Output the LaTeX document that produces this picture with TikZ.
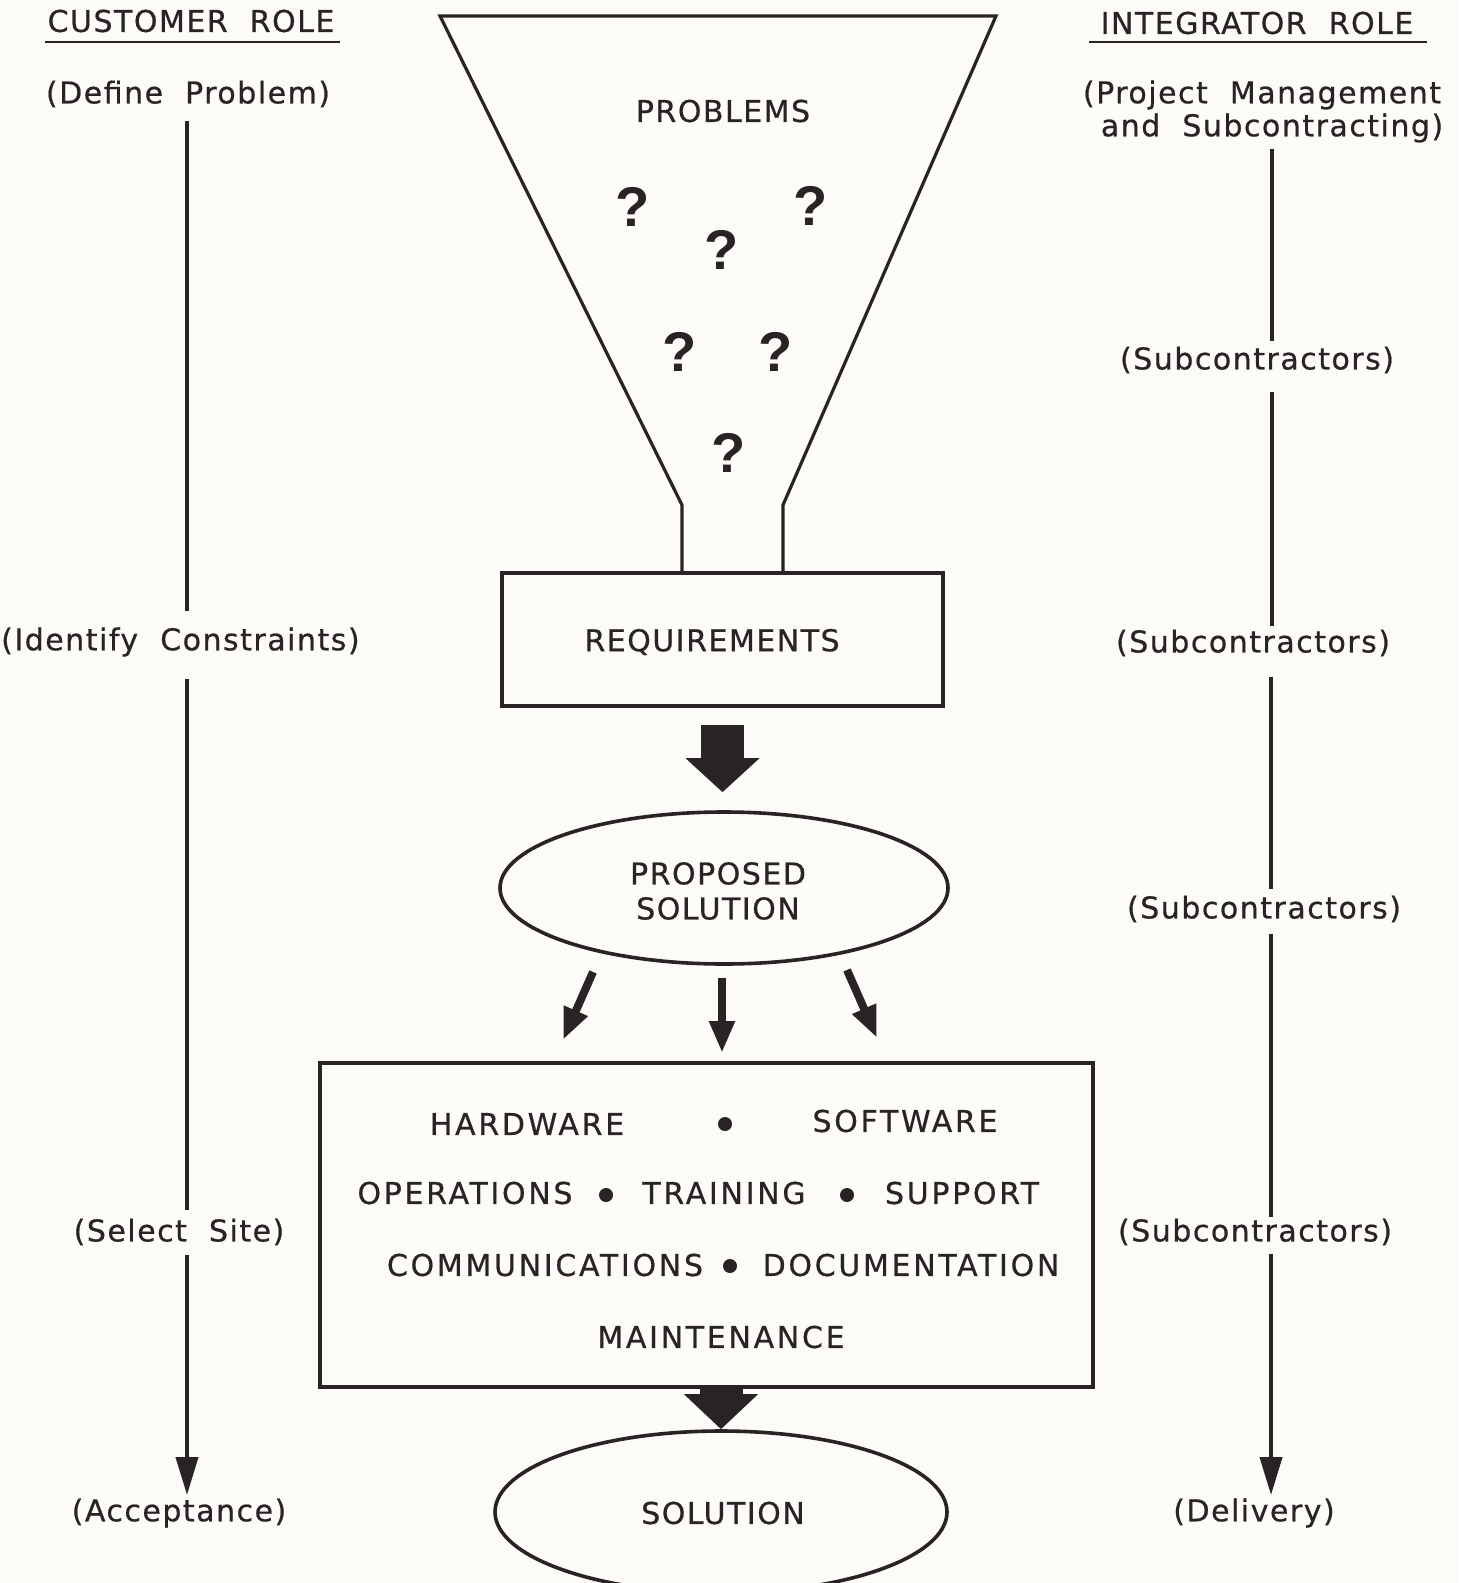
\documentclass[tikz,border=0pt]{standalone}
\usepackage{fontspec}
\setmainfont{DejaVu Sans}[LetterSpace=5, WordSpace=2, FakeBold=0.6]
\newfontfamily\boxfont{DejaVu Sans}[LetterSpace=9, WordSpace=2, FakeBold=0.6]
\newfontfamily\qfont{Liberation Sans}
\usetikzlibrary{arrows.meta, shapes.geometric, calc}
\definecolor{ink}{RGB}{40,35,36}
\definecolor{paper}{RGB}{252,251,248}
\begin{document}
\begin{tikzpicture}[x=0.5pt, y=-0.5pt,
  lbl/.style={font=\fontsize{15}{18}\selectfont, text=ink, inner sep=0pt},
  boxlbl/.style={font=\fontsize{15}{18}\boxfont, text=ink, inner sep=0pt},
  qm/.style={font=\fontsize{28}{30}\qfont\bfseries, text=ink, inner sep=0pt},
  outline/.style={draw=ink, line width=1.6pt},
  boxshape/.style={draw=ink, line width=1.8pt, rectangle, inner sep=0pt},
  ellshape/.style={draw=ink, line width=1.8pt, ellipse, inner sep=0pt},
  fat/.style={draw=ink, line width=21.5pt, line cap=butt, -{Triangle[length=17pt,width=36pt]}},
  thinarrow/.style={draw=ink, line width=4pt, line cap=butt, -{Triangle[length=16pt,width=12pt]}},
  sideline/.style={draw=ink, line width=2pt},
  sidearrow/.style={draw=ink, line width=2pt, -{Triangle[length=19pt,width=11pt]}},
  dotmark/.style={circle, fill=ink, inner sep=0pt, minimum size=7pt}
]
\fill[paper] (0,0) rectangle (1458,1583);
\useasboundingbox (0,0) rectangle (1458,1583);

% ---------- funnel ----------
\coordinate (f1) at (440,16);
\coordinate (f2) at (996,16);
\coordinate (f3) at (783,505);
\coordinate (f4) at (783,573);
\coordinate (f5) at (682,573);
\coordinate (f6) at (682,505);
\draw[outline, line join=miter] (f4) -- (f3) -- (f2) -- (f1) -- (f6) -- (f5);
\node[lbl] (problems) at (723,111) {PROBLEMS};
\node[qm] (q1) at (633,207) {?};
\node[qm] (q2) at (811,206) {?};
\node[qm] (q3) at (722,250) {?};
\node[qm] (q4) at (680,352) {?};
\node[qm] (q5) at (776,352) {?};
\node[qm] (q6) at (729,453) {?};

% ---------- requirements ----------
\node[boxshape, minimum width=220.5pt, minimum height=66.5pt] (req) at (722.5,639.5) {};
\node[lbl] (reqtxt) at (712,642) {REQUIREMENTS};

% ---------- proposed solution ----------
\node[ellshape, minimum width=224pt, minimum height=76pt] (prop) at (724,888) {};
\node[lbl, align=center] (proptxt) at (718,891) {PROPOSED\\[-0.5pt]SOLUTION};

\draw[fat] ([yshift=-8.5pt]req.south) -- ([yshift=9pt]prop.north -| req.south);

% ---------- system box ----------
\node[boxshape, minimum width=386.5pt, minimum height=162pt] (sys) at (706.5,1225) {};
\node[boxlbl] (hw) at (527,1124) {HARDWARE};
\node[dotmark] (d1) at (725,1124) {};
\node[boxlbl] (sw) at (905,1121) {SOFTWARE};
\node[boxlbl] (ops) at (465,1193) {OPERATIONS};
\node[dotmark] (d2) at (606,1195) {};
\node[boxlbl] (trn) at (724,1193) {TRAINING};
\node[dotmark] (d3) at (847,1195) {};
\node[boxlbl] (sup) at (962,1193) {SUPPORT};
\node[boxlbl] (com) at (545,1265) {COMMUNICATIONS};
\node[dotmark] (d4) at (730,1266) {};
\node[boxlbl] (doc) at (911,1265) {DOCUMENTATION};
\node[boxlbl] (mnt) at (721,1337) {MAINTENANCE};

% thin arrows between proposed solution and system box
\coordinate (a1s) at (593,972);
\coordinate (a1e) at (563,1040);
\coordinate (a2s) at (722,978);
\coordinate (a2e) at (722,1053);
\coordinate (a3s) at (847,970);
\coordinate (a3e) at (877,1038);
\draw[thinarrow] (a1s) -- (a1e);
\draw[thinarrow] (a2s) -- (a2e);
\draw[thinarrow] (a3s) -- (a3e);

% ---------- solution ----------
\node[ellshape, minimum width=226pt, minimum height=81pt] (sol) at (721,1512) {};
\node[lbl] (soltxt) at (723,1513) {SOLUTION};
\draw[fat, -{Triangle[length=17.5pt,width=36pt]}] (sys.south -| sol.north) -- (sol.north);

% ---------- customer column ----------
\node[lbl] (cust) at (191,21) {CUSTOMER ROLE};
\coordinate (cu1) at (45,42);
\coordinate (cu2) at (340,42);
\draw[ink, line width=1.4pt] (cu1) -- (cu2);
\node[lbl] (defprob) at (188,94) {(Define Problem)};
\node[lbl, anchor=east] (ident) at (360,642) {(Identify Constraints)};
\node[lbl] (selsite) at (179,1232) {(Select Site)};
\node[lbl] (accept) at (179,1513) {(Acceptance)};
\coordinate (l1) at (187,121);
\coordinate (l2) at (187,611);
\coordinate (l3) at (187,679);
\coordinate (l4) at (187,1210);
\coordinate (l5) at (187,1255);
\coordinate (l6) at (187,1495);
\draw[sideline] (l1) -- (l2);
\draw[sideline] (l3) -- (l4);
\draw[sidearrow] (l5) -- (l6);

% ---------- integrator column ----------
\node[lbl] (integ) at (1257,23) {INTEGRATOR ROLE};
\coordinate (iu1) at (1089,42);
\coordinate (iu2) at (1427,42);
\draw[ink, line width=1.4pt] (iu1) -- (iu2);
\node[lbl] (pm1) at (1262,95) {(Project Management};
\node[lbl] (pm2) at (1272,128) {and Subcontracting)};
\node[lbl] (sub1) at (1257,360) {(Subcontractors)};
\node[lbl] (sub2) at (1253,643) {(Subcontractors)};
\node[lbl] (sub3) at (1264,909) {(Subcontractors)};
\node[lbl] (sub4) at (1255,1232) {(Subcontractors)};
\node[lbl] (deliv) at (1254,1513) {(Delivery)};
\coordinate (r1) at (1272,149);
\coordinate (r2) at (1272,341);
\coordinate (r3) at (1272,392);
\coordinate (r4) at (1272,626);
\coordinate (r5) at (1271,677);
\coordinate (r6) at (1271,889);
\coordinate (r7) at (1271,934);
\coordinate (r8) at (1271,1217);
\coordinate (r9) at (1271,1254);
\coordinate (r10) at (1271,1495);
\draw[sideline] (r1) -- (r2);
\draw[sideline] (r3) -- (r4);
\draw[sideline] (r5) -- (r6);
\draw[sideline] (r7) -- (r8);
\draw[sidearrow] (r9) -- (r10);
\end{tikzpicture}
\end{document}
